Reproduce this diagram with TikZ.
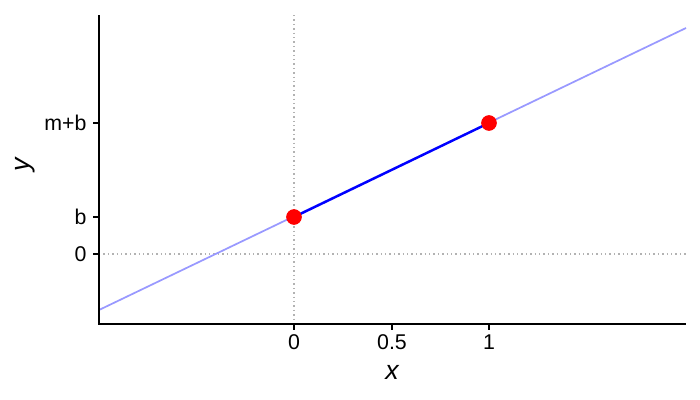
\documentclass[tikz,border=0pt]{standalone}
\usepackage{fontspec}
\setmainfont{Liberation Sans}
\usepackage{tikz}
\usetikzlibrary{positioning}

\begin{document}
\begin{tikzpicture}[x=0.75pt, y=-0.75pt,
                          dot/.style={circle, fill=red, inner sep=0pt, minimum size=11.5pt},
                          ticklabel/.style={font=\fontsize{16}{18}\selectfont, inner sep=1pt},
                          axislabel/.style={font=\fontsize{20}{22}\selectfont\itshape, inner sep=0pt},
                          guide/.style={gray!60, line width=1.1pt, dash pattern=on 1.1pt off 2.2pt},
                          spine/.style={black, line width=0.9pt},
                      ]
                      \useasboundingbox (0,0) rectangle (700,400);
                      %Coordinates
                      \coordinate (origin) at (99,324);
                      \coordinate (xend)   at (686,324);
                      \coordinate (ytop)   at (99,15);
                      \coordinate (left)   at (99,310);
                      \coordinate (right)  at (686,28);
                      \coordinate (vtop)   at (294,15);
                      \coordinate (vbot)   at (294,324);
                      \coordinate (hleft)  at (99,254);
                      \coordinate (hright) at (686,254);

                      %Guides
                      \draw[guide] (vtop) -- (vbot);
                      \draw[guide] (hleft) -- (hright);

                      %Lines
                      \draw[blue!40, line width=1.3pt] (left) -- (right);

                      %Nodes
                      \node[dot]      (p0)  at (294,217)  {};
                      \node[dot]      (p1)  at (489,123)  {};
                      \draw[blue, line width=1.8pt] (p0.center) -- (p1.center);
                      \node[dot] at (p0) {};
                      \node[dot] at (p1) {};

                      %Axes
                      \draw[spine] (ytop) -- (origin) -- (xend);
                      \foreach \px/\lab in {294/0, 392/0.5, 489/1}
                        {\draw[spine] (\px,324) -- (\px,330);
                         \node[ticklabel, anchor=north] (xt\px) at (\px,333) {\lab};}
                      \foreach \py/\lab in {254/0, 217/b, 123/m+b}
                        {\draw[spine] (99,\py) -- (93,\py);
                         \node[ticklabel, anchor=east] (yt\py) at (88,\py) {\lab};}
                      \node[axislabel] (xlabel) at (392,372) {x};
                      \node[axislabel, rotate=90] (ylabel) at (25,165) {y};
                  \end{tikzpicture}
\end{document}
